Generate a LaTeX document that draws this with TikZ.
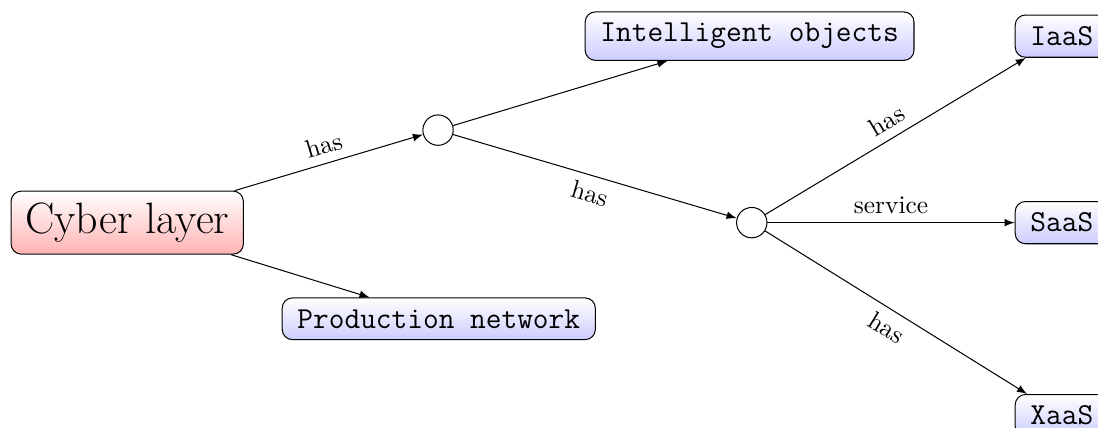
\documentclass[tikz,border=0pt]{standalone}
\usetikzlibrary{arrows}

\begin{document}
\begin{tikzpicture}[>=latex,
    layer/.style={draw, rounded corners, inner xsep=5.5pt, inner ysep=4.6pt, top color=white, bottom color=red!30, font=\LARGE},
    item/.style={draw, rounded corners, inner xsep=6pt, inner ysep=4.5pt, top color=white, bottom color=blue!20, font=\large\ttfamily},
    hub/.style={draw, circle, minimum size=4.2mm, inner sep=0pt, fill=white}]
    \useasboundingbox (0,0) rectangle (15.19,-5.92);
    \node[layer] (cyber) at (1.76,-3.08) {Cyber layer};
    \node[hub] (hubA) at (6.06,-1.80) {};
    \node[hub] (hubB) at (10.40,-3.08) {};
    \node[item] (intel) at (10.37,-0.50) {Intelligent objects};
    \node[item] (prod) at (6.07,-4.41) {Production network};
    \node[item] (iaas) at (14.69,-0.50) {IaaS};
    \node[item] (saas) at (14.69,-3.08) {SaaS};
    \node[item] (xaas) at (14.69,-5.75) {XaaS};
    \draw[->] (cyber) -- node[above, sloped] {has} (hubA);
    \draw[->] (cyber) -- (prod);
    \draw[->] (hubA) -- (intel);
    \draw[->] (hubA) -- node[below, sloped] {has} (hubB);
    \draw[->] (hubB) -- node[above, sloped] {has} (iaas);
    \draw[->] (hubB) -- node[above] {service} (saas);
    \draw[->] (hubB) -- node[below, sloped] {has} (xaas);
\end{tikzpicture}
\end{document}
